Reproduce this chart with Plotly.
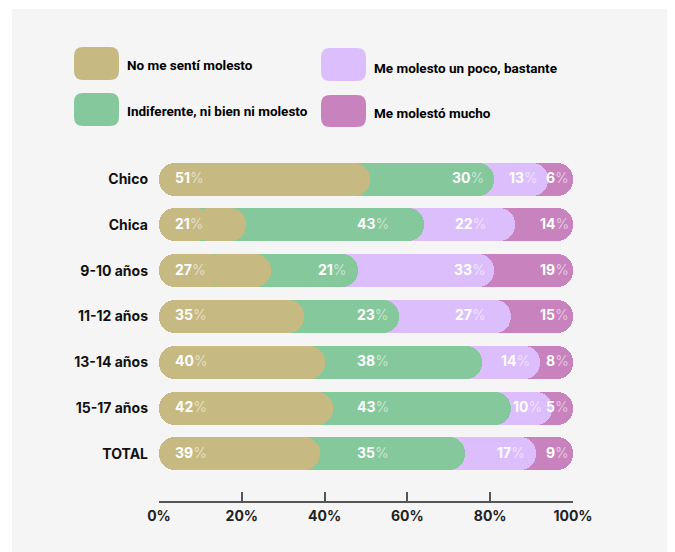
import plotly.graph_objects as go

categories = ["Chico", "Chica", "9-10 años", "11-12 años", "13-14 años", "15-17 años", "TOTAL"]
no_molesto = [51, 21, 27, 35, 40, 42, 39]
indiferente = [30, 43, 21, 23, 38, 43, 35]
un_poco = [13, 22, 33, 27, 14, 10, 17]
mucho = [6, 14, 19, 15, 8, 5, 9]
series_names = ["No me sentí molesto", "Indiferente, ni bien ni molesto",
                "Me molesto un poco, bastante", "Me molestó mucho"]
colors = ["#C7B982", "#85C89C", "#DCBEFC", "#C882BE"]
tick_vals = [0, 20, 40, 60, 80, 100]
tick_text = ["0%", "20%", "40%", "60%", "80%", "100%"]

OFF = 8  # default page body margin
W, H = 675 - OFF, 552 - OFF
ML = 159 - OFF
MR = W - (573 - OFF)
MT = 150 - OFF
MB = H - (501 - OFF)
PW, PH = W - ML - MR, H - MT - MB
FONT = "Inter"
LFONT = "Roboto"
YRANGE = [7.026, -0.633]

series = [no_molesto, indiferente, un_poco, mucho]
cums = []
run = [0] * len(categories)
for s in series:
    run = [a + b for a, b in zip(run, s)]
    cums.append(run)

fig = go.Figure()
hidden_base = [0.25 * c for c in cums[0]]
axis_names = []
k = 0
def add_bar(base, length, color):
    global k
    k += 1
    yname = "y" if k == 1 else "y%d" % k
    axis_names.append(k)
    fig.add_trace(go.Bar(
        base=base, x=length, y=categories, orientation="h", width=0.72,
        marker=dict(color=color, cornerradius="50%", line=dict(width=0)),
        showlegend=False, hoverinfo="skip", xaxis="x", yaxis=yname))

for i in (3, 2, 1):
    add_bar(hidden_base, [c - b for c, b in zip(cums[i], hidden_base)], colors[i])
# first series: two halves so both ends are rounded
add_bar([0.4 * c for c in cums[0]], [0.6 * c for c in cums[0]], colors[0])
add_bar([0.6 * c for c in cums[0]], [-0.6 * c for c in cums[0]], colors[0])

def lbl(v):
    return "<b>%d</b><span style=\"color:rgba(255,255,255,0.55)\">%%</span>" % v

annotations = []
label_cols = [None, 56, 79.5, 99.5]
label_w = 7.3
pad = 2.0
for j, cat in enumerate(categories):
    annotations.append(dict(x=3.3, y=cat, xref="x", yref="y", text=lbl(series[0][j]),
                            xanchor="left", showarrow=False, yshift=1.5,
                            font=dict(family=FONT, size=14, color="white")))
    for i in range(1, 4):
        prev_end = cums[i - 1][j]
        end = cums[i][j]
        col = label_cols[i]
        fits = col <= end + 0.5 and (i == 3 or col - label_w >= prev_end)
        xe = col if fits else end - pad
        annotations.append(dict(x=xe, y=cat, xref="x", yref="y", text=lbl(series[i][j]),
                                xanchor="right", showarrow=False, yshift=1.5,
                                font=dict(family=FONT, size=14, color="white")))

def px2x(px):
    return (px - OFF - ML) / PW

def py2y(py):
    return (MT + PH - (py - OFF)) / PH

def rrect(x0, y0, x1, y1, r):
    X = lambda p: px2x(p)
    Y = lambda p: py2y(p)
    return ("M %f,%f L %f,%f Q %f,%f %f,%f L %f,%f Q %f,%f %f,%f L %f,%f Q %f,%f %f,%f L %f,%f Q %f,%f %f,%f Z" % (
        X(x0 + r), Y(y0), X(x1 - r), Y(y0), X(x1), Y(y0), X(x1), Y(y0 + r),
        X(x1), Y(y1 - r), X(x1), Y(y1), X(x1 - r), Y(y1),
        X(x0 + r), Y(y1), X(x0), Y(y1), X(x0), Y(y1 - r),
        X(x0), Y(y0 + r), X(x0), Y(y0), X(x0 + r), Y(y0)))

shapes = [
    dict(type="rect", xref="paper", yref="paper", x0=px2x(0), x1=px2x(12), y0=py2y(552), y1=py2y(0),
         fillcolor="white", line=dict(width=0), layer="below"),
    dict(type="rect", xref="paper", yref="paper", x0=px2x(0), x1=px2x(675), y0=py2y(9), y1=py2y(0),
         fillcolor="white", line=dict(width=0), layer="below"),
]
legend_boxes = [(74, 47, 119, 80, 125, 65), (74, 93, 119, 126, 125, 111),
                (321, 48, 366, 81, 372, 68), (321, 95, 366, 127, 372, 113)]
for i, (x0, y0, x1, y1, tx, ty) in enumerate(legend_boxes):
    shapes.append(dict(type="path", xref="paper", yref="paper", path=rrect(x0, y0, x1, y1, 9),
                       fillcolor=colors[i], line=dict(width=0)))
    annotations.append(dict(x=px2x(tx), y=py2y(ty), xref="paper", yref="paper",
                            text="<b>%s</b>" % series_names[i], xanchor="left", yanchor="middle",
                            showarrow=False, font=dict(family=LFONT, size=13.5, color="#000")))

layout_axes = {}
for n in axis_names:
    key = "yaxis" if n == 1 else "yaxis%d" % n
    ax = dict(type="category", categoryorder="array", categoryarray=categories,
              range=YRANGE, showgrid=False, zeroline=False, showline=False, fixedrange=True)
    if n == 1:
        ax.update(ticks="", ticklabelstandoff=10, tickprefix="<b>", ticksuffix="</b>",
                  tickfont=dict(family=FONT, size=14, color="#111"))
    else:
        ax.update(overlaying="y", visible=False)
    layout_axes[key] = ax

fig.update_layout(
    width=W, height=H, margin=dict(l=ML, r=MR, t=MT, b=MB, pad=0),
    paper_bgcolor="#F5F5F5", plot_bgcolor="rgba(0,0,0,0)",
    barmode="overlay", bargap=0, showlegend=False,
    shapes=shapes, annotations=annotations,
    xaxis=dict(range=[0, 100], tickvals=tick_vals,
               ticktext=["<b>%s</b>" % t for t in tick_text], ticks="inside",
               ticklen=9, tickwidth=1.5, tickcolor="#555", showline=True, linecolor="#555",
               linewidth=1.5, showgrid=False, zeroline=False, fixedrange=True,
               tickfont=dict(family=FONT, size=14, color="#222"), ticklabelstandoff=1),
    **layout_axes,
)
fig.write_html("out.html")
